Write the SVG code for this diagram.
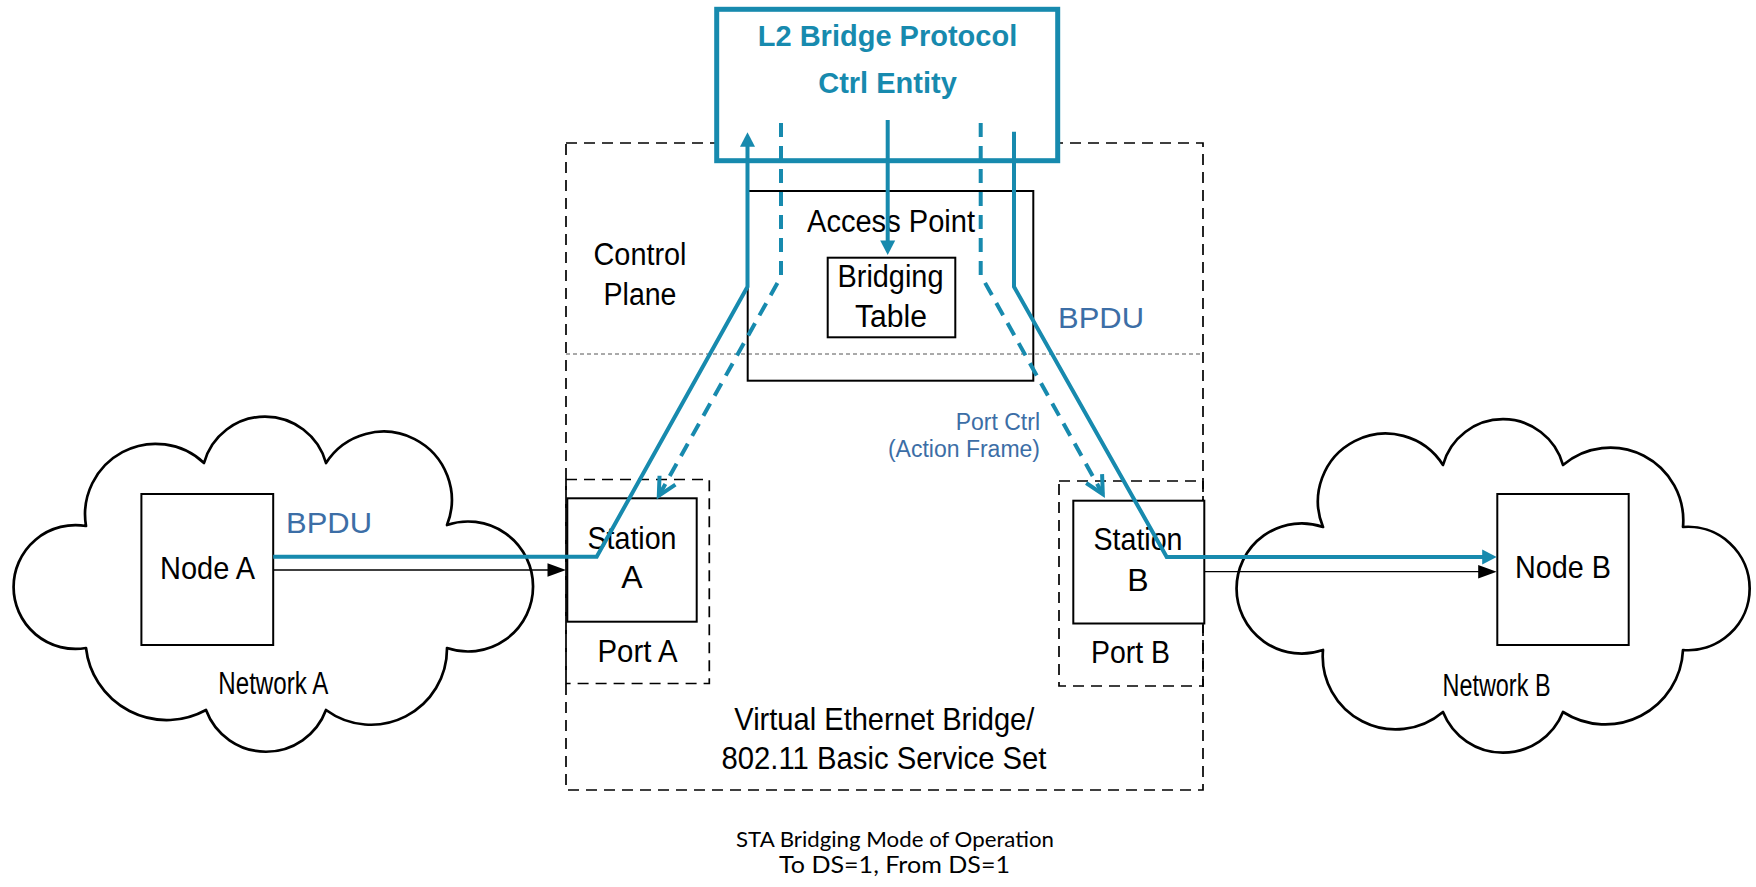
<svg xmlns="http://www.w3.org/2000/svg" width="1756" height="887" viewBox="0 0 1756 887">
<style>
.bg{fill:#fff}
.box{fill:#fff;stroke:#000;stroke-width:2}
.open{fill:none;stroke:#000;stroke-width:2}
.dash{fill:none;stroke:#000;stroke-width:1.7;stroke-dasharray:11 7}
.fine{fill:none;stroke:#555;stroke-width:1;stroke-dasharray:4 3}
.cloud{fill:#fff;stroke:#000;stroke-width:2.7;stroke-linejoin:round}
.l2{fill:#fff;stroke:#178AAE;stroke-width:5}
.t{font-family:"Liberation Sans",Arial,Helvetica,sans-serif;font-size:31px;fill:#000;text-anchor:middle}
.big{font-size:32px}
.blue{fill:#3C6EA6}
.title{font-family:"Liberation Sans",Arial,Helvetica,sans-serif;font-size:29px;font-weight:bold;fill:#178AAE;text-anchor:middle}
.cap{font-family:Lato,"Open Sans","Liberation Sans",sans-serif;fill:#000;text-anchor:middle}
.teal{fill:none;stroke:#178AAE;stroke-width:4;stroke-linejoin:miter}
.tealdash{fill:none;stroke:#178AAE;stroke-width:4;stroke-dasharray:14 9}
.blk{fill:none;stroke:#000;stroke-width:1.3}
</style>
<defs>
<marker id="tealHead" markerUnits="userSpaceOnUse" orient="auto" overflow="visible" markerWidth="1" markerHeight="1" refX="0" refY="0">
<path d="M-2.5,-7.5 L12,0 L-2.5,7.5 Z" fill="#178AAE"/>
</marker>
<marker id="openHead" markerUnits="userSpaceOnUse" orient="auto" overflow="visible" markerWidth="1" markerHeight="1" refX="0" refY="0">
<path d="M-17.8,-9.1 L0,0 L-17.8,9.1" fill="none" stroke="#178AAE" stroke-width="4" stroke-dasharray="none"/>
</marker>
<marker id="blackHead" markerUnits="userSpaceOnUse" orient="auto" overflow="visible" markerWidth="1" markerHeight="1" refX="0" refY="0">
<path d="M-6.5,-6.8 L12,0 L-6.5,6.8 Z" fill="#000"/>
</marker>
</defs>
<rect class="bg" x="0" y="0" width="1756" height="887"/>

<g id="networkA">
<path class="cloud" d="M86 526 A61.9 61.9 0 1 0 86 648 A81.3 81.3 0 0 0 206 710 A64 64 0 0 0 326 710 A76 76 0 0 0 447 648 A65 65 0 1 0 447 525 A68.3 68.3 0 0 0 326 463 A63.3 63.3 0 0 0 204 463 A70.6 70.6 0 0 0 86 526 Z"/>
<text class="t" x="273.3" y="694" textLength="110" lengthAdjust="spacingAndGlyphs">Network A</text>
</g>
<g id="networkB">
<path class="cloud" d="M1323 527 A65.1 65.1 0 1 0 1323 650 A73 73 0 0 0 1443 712 A64.6 64.6 0 0 0 1563 712 A77.9 77.9 0 0 0 1683 650 A61.7 61.7 0 1 0 1683 527 A73 73 0 0 0 1563 465 A62.2 62.2 0 0 0 1443 465 A67.8 67.8 0 0 0 1323 527 Z"/>
<text class="t" x="1496.5" y="696" textLength="108" lengthAdjust="spacingAndGlyphs">Network B</text>
</g>
<g id="nodeA">
<rect class="box" x="141.4" y="494" width="131.8" height="151"/>
<text class="t big" x="207.5" y="579" textLength="95" lengthAdjust="spacingAndGlyphs">Node A</text>
</g>
<g id="nodeB">
<rect class="box" x="1497.3" y="494" width="131.4" height="151"/>
<text class="t big" x="1563" y="577.5" textLength="96" lengthAdjust="spacingAndGlyphs">Node B</text>
</g>

<g id="bridge">
<rect class="dash" x="566" y="143" width="637" height="647"/>
<line class="fine" x1="566" y1="354" x2="1203" y2="354"/>
<text class="t" x="640" y="265" textLength="93" lengthAdjust="spacingAndGlyphs">Control</text>
<text class="t" x="640" y="305" textLength="73" lengthAdjust="spacingAndGlyphs">Plane</text>
<text class="t big" x="884.3" y="730" textLength="300" lengthAdjust="spacingAndGlyphs">Virtual Ethernet Bridge/</text>
<text class="t big" x="884" y="769.3" textLength="325" lengthAdjust="spacingAndGlyphs">802.11 Basic Service Set</text>
</g>

<g id="l2entity">
<rect class="l2" x="716.7" y="9.3" width="341" height="151.4"/>
<text class="title" x="887.5" y="45.7">L2 Bridge Protocol</text>
<text class="title" x="887.5" y="93.3">Ctrl Entity</text>
</g>

<g id="accessPoint">
<rect class="open" x="747.7" y="191" width="285.6" height="189.7"/>
<text class="t" x="891" y="232.3" textLength="168" lengthAdjust="spacingAndGlyphs">Access Point</text>
</g>
<g id="bridgingTable">
<rect class="box" x="827.7" y="257.7" width="127.6" height="79.6"/>
<text class="t" x="890.5" y="286.7" textLength="106" lengthAdjust="spacingAndGlyphs">Bridging</text>
<text class="t" x="891" y="326.7" textLength="72" lengthAdjust="spacingAndGlyphs">Table</text>
</g>

<g id="portA">
<rect class="dash" x="566" y="479.5" width="143.3" height="204"/>
<text class="t" x="637.5" y="661.7" textLength="80" lengthAdjust="spacingAndGlyphs">Port A</text>
</g>
<g id="stationA">
<rect class="box" x="567.3" y="498.3" width="129.4" height="123.4"/>
<text class="t big" x="632" y="549.3" textLength="89" lengthAdjust="spacingAndGlyphs">Station</text>
<text class="t big" x="632" y="588.3">A</text>
</g>
<g id="portB">
<rect class="dash" x="1059" y="481" width="144" height="205"/>
<text class="t" x="1130.6" y="663" textLength="79" lengthAdjust="spacingAndGlyphs">Port B</text>
</g>
<g id="stationB">
<rect class="box" x="1073.3" y="500.7" width="131" height="122.8"/>
<text class="t big" x="1138" y="550" textLength="89" lengthAdjust="spacingAndGlyphs">Station</text>
<text class="t big" x="1138" y="591">B</text>
</g>

<g id="connectors">
<path class="blk" d="M273.2 570 L554 570" marker-end="url(#blackHead)"/>
<path class="blk" d="M1204.3 571.7 L1484.7 571.7" marker-end="url(#blackHead)"/>
<path class="teal" d="M273.2 556.7 L596.7 556.7 L747.5 286.7 L747.5 144.3" marker-end="url(#tealHead)"/>
<path class="tealdash" d="M781 123 L781 276.7 L658.8 495.7" marker-end="url(#openHead)"/>
<path class="teal" d="M887.7 120 L887.7 243" marker-end="url(#tealHead)"/>
<path class="tealdash" d="M980.7 123 L980.7 275 L1102.8 494.1" marker-end="url(#openHead)"/>
<path class="teal" d="M1014 131.7 L1014 286.7 L1166.7 557 L1484.7 557" marker-end="url(#tealHead)"/>
</g>

<g id="labels">
<text class="t blue" x="286" y="533.3" style="text-anchor:start;font-size:30px" textLength="86" lengthAdjust="spacingAndGlyphs">BPDU</text>
<text class="t blue" x="1058" y="328" style="text-anchor:start;font-size:30px" textLength="86" lengthAdjust="spacingAndGlyphs">BPDU</text>
<text class="t blue" x="1040" y="430" style="text-anchor:end;font-size:23px">Port Ctrl</text>
<text class="t blue" x="1040" y="456.5" style="text-anchor:end;font-size:23px">(Action Frame)</text>
</g>

<g id="caption">
<text class="cap" x="895" y="847" font-size="20.5" textLength="318" lengthAdjust="spacingAndGlyphs">STA Bridging Mode of Operation</text>
<text class="cap" x="894.5" y="872.5" font-size="23" textLength="231" lengthAdjust="spacingAndGlyphs">To DS=1, From DS=1</text>
</g>
</svg>
